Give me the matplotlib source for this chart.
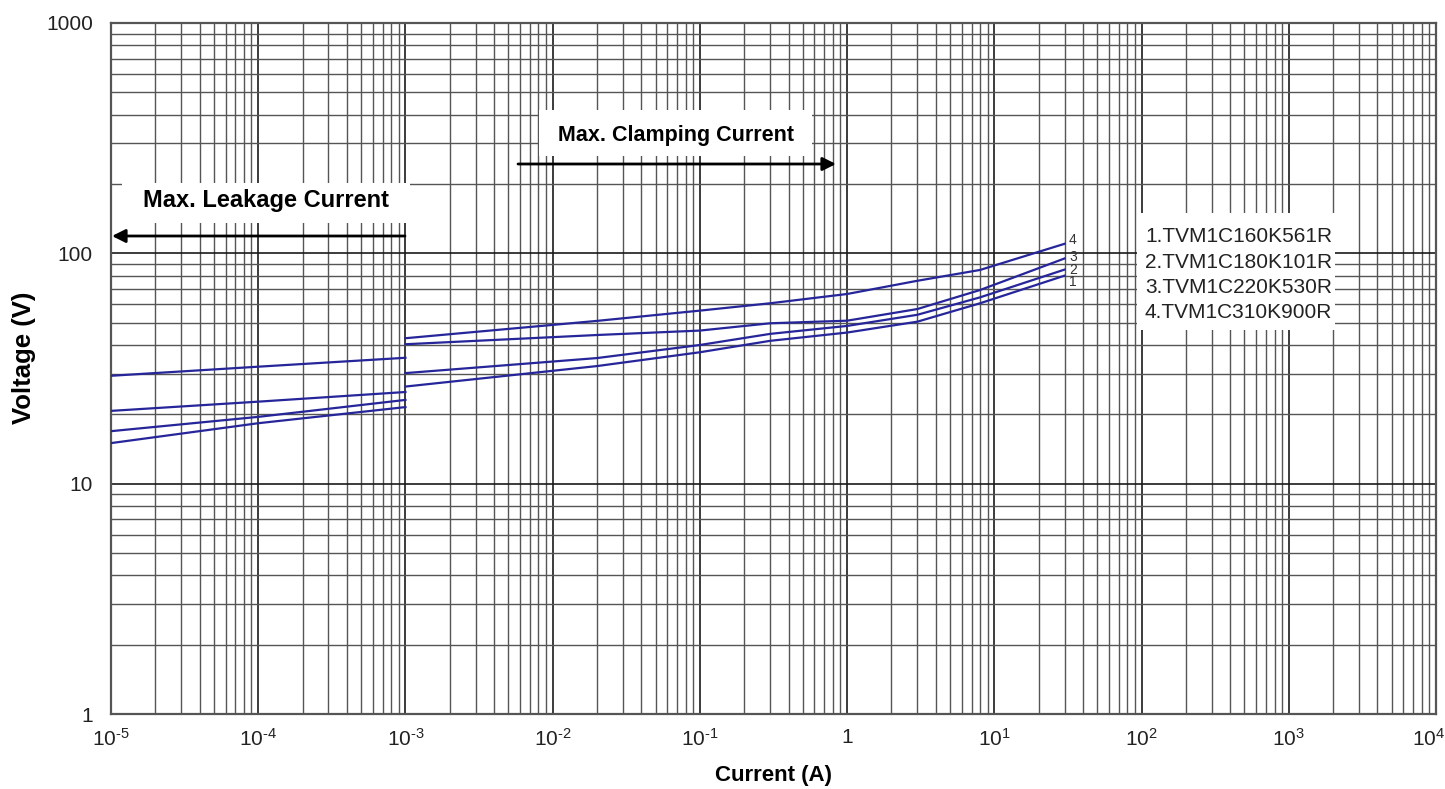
import numpy as np
import matplotlib.pyplot as plt
import matplotlib.transforms as mtransforms
from matplotlib.ticker import LogLocator, NullFormatter
from matplotlib.patches import Rectangle

plt.rcParams['font.family'] = ['Liberation Sans', 'DejaVu Sans']
plt.rcParams['mathtext.fontset'] = 'custom'
plt.rcParams['mathtext.rm'] = 'Liberation Sans'
plt.rcParams['mathtext.it'] = 'Liberation Sans'

# leakage region (1e-5 .. 1e-3 A)
leak_current = [1e-5, 1e-4, 1e-3]
leak_v1 = [15.0, 18.3, 21.5]
leak_v2 = [16.9, 19.5, 23.1]
leak_v3 = [20.7, 22.7, 25.0]
leak_v4 = [29.4, 32.2, 35.2]

# clamping region (1e-3 .. 30 A)
clamp_current = [1e-3, 0.02, 0.1, 0.3, 1, 3, 8, 30]
clamp_v1 = [26.4, 32.4, 37.2, 41.7, 45.3, 50.5, 60.7, 80.0]
clamp_v2 = [30.2, 35.1, 40.0, 44.7, 48.4, 54.1, 64.4, 85.0]
clamp_v3 = [40.3, 44.2, 46.2, 49.7, 51.0, 57.3, 69.3, 95.0]
clamp_v4 = [42.8, 50.9, 56.4, 60.7, 66.6, 76.0, 84.7, 110.0]

parts = ["1.TVM1C160K561R", "2.TVM1C180K101R", "3.TVM1C220K530R", "4.TVM1C310K900R"]
curve_ids = ["1", "2", "3", "4"]

xticks = [1e-5, 1e-4, 1e-3, 1e-2, 1e-1, 1, 1e1, 1e2, 1e3, 1e4]
xticklabels = [r'$10^{\text{-5}}$', r'$10^{\text{-4}}$', r'$10^{\text{-3}}$', r'$10^{\text{-2}}$',
               r'$10^{\text{-1}}$', '1', '$10^{1}$', '$10^{2}$', '$10^{3}$', '$10^{4}$']
yticks = [1, 10, 100, 1000]
yticklabels = ['1', '10', '100', '1000']

W, H = 1445, 789
fig = plt.figure(figsize=(W / 100, H / 100), dpi=100)
ax = fig.add_axes([111 / W, (H - 714) / H, 1325 / W, 691 / H])

def fx(px):
    return (px - 111) / 1325.0

def fy(py):
    return (714 - py) / 691.0

line_col = '#26269a'
for v in [leak_v1, leak_v2, leak_v3, leak_v4]:
    ax.plot(leak_current, v, color=line_col, lw=1.6, zorder=3)
for v in [clamp_v1, clamp_v2, clamp_v3, clamp_v4]:
    ax.plot(clamp_current, v, color=line_col, lw=1.6, zorder=3)

ax.set_xscale('log')
ax.set_yscale('log')
ax.set_xlim(1e-5, 1e4)
ax.set_ylim(1, 1000)

ax.set_xticks(xticks)
ax.set_xticklabels(xticklabels)
ax.set_yticks(yticks)
ax.set_yticklabels(yticklabels)
ax.xaxis.set_minor_locator(LogLocator(base=10, subs=np.arange(2, 10), numticks=100))
ax.yaxis.set_minor_locator(LogLocator(base=10, subs=np.arange(2, 10), numticks=100))
ax.xaxis.set_minor_formatter(NullFormatter())
ax.yaxis.set_minor_formatter(NullFormatter())
ax.tick_params(which='both', length=0)
ax.tick_params(axis='x', pad=10, labelsize=15, colors='#222222')
ax.tick_params(axis='y', pad=13, labelsize=15, colors='#222222')

# last x label sits against the right edge
last = ax.get_xticklabels()[-1]
last.set_ha('right')
last.set_transform(last.get_transform() + mtransforms.ScaledTranslation(9 / 100, 0, fig.dpi_scale_trans))

ax.set_axisbelow(True)
ax.grid(True, which='major', color='#1a1a1a', lw=1.2)
ax.grid(True, which='minor', color='#555555', lw=1.0)
for s in ax.spines.values():
    s.set_color('#555555')
    s.set_linewidth(1.6)

ax.set_xlabel('Current (A)', fontsize=16, fontweight='bold')
ax.set_ylabel('Voltage (V)', fontsize=18.5, fontweight='bold')
ax.xaxis.set_label_coords(0.5, fy(775))
ax.yaxis.set_label_coords(fx(24), fy(358))
ax.xaxis.label.set_va('center')
ax.yaxis.label.set_va('center')

# annotation boxes
ax.add_patch(Rectangle((fx(122), fy(223)), 288 / 1325, 40 / 691, transform=ax.transAxes,
                       facecolor='white', edgecolor='none', zorder=2))
ax.text(fx(266), fy(200), 'Max. Leakage Current', transform=ax.transAxes,
        ha='center', va='center', fontsize=17, fontweight='bold', zorder=4)
ax.annotate('', xy=(fx(112), fy(236)), xytext=(fx(405), fy(236)),
            xycoords='axes fraction', textcoords='axes fraction',
            arrowprops=dict(arrowstyle='-|>', color='black', lw=2, mutation_scale=20,
                            shrinkA=0, shrinkB=0), zorder=4)

ax.add_patch(Rectangle((fx(539), fy(156)), 273 / 1325, 46 / 691, transform=ax.transAxes,
                       facecolor='white', edgecolor='none', zorder=2))
ax.text(fx(676), fy(135), 'Max. Clamping Current', transform=ax.transAxes,
        ha='center', va='center', fontsize=15.5, fontweight='bold', zorder=4)
ax.annotate('', xy=(fx(836), fy(164)), xytext=(fx(518), fy(164)),
            xycoords='axes fraction', textcoords='axes fraction',
            arrowprops=dict(arrowstyle='-|>', color='black', lw=2, mutation_scale=20,
                            shrinkA=0, shrinkB=0), zorder=4)

# legend box
ax.add_patch(Rectangle((fx(1137), fy(330)), 198 / 1325, 117 / 691, transform=ax.transAxes,
                       facecolor='white', edgecolor='none', zorder=2))
for i, name in enumerate(parts):
    ax.text(fx(1145), fy(237 + 25 * i), name, transform=ax.transAxes,
            ha='left', va='center', fontsize=15, color='#222222', zorder=4)

# curve numbers at end of lines
label_y = [282, 270, 257, 240]
for cid, py in zip(curve_ids, label_y):
    ax.text(fx(1069), fy(py), cid, transform=ax.transAxes, ha='left', va='center',
            fontsize=10, color='#333333', zorder=4)

fig.savefig('out.png', dpi=100)
